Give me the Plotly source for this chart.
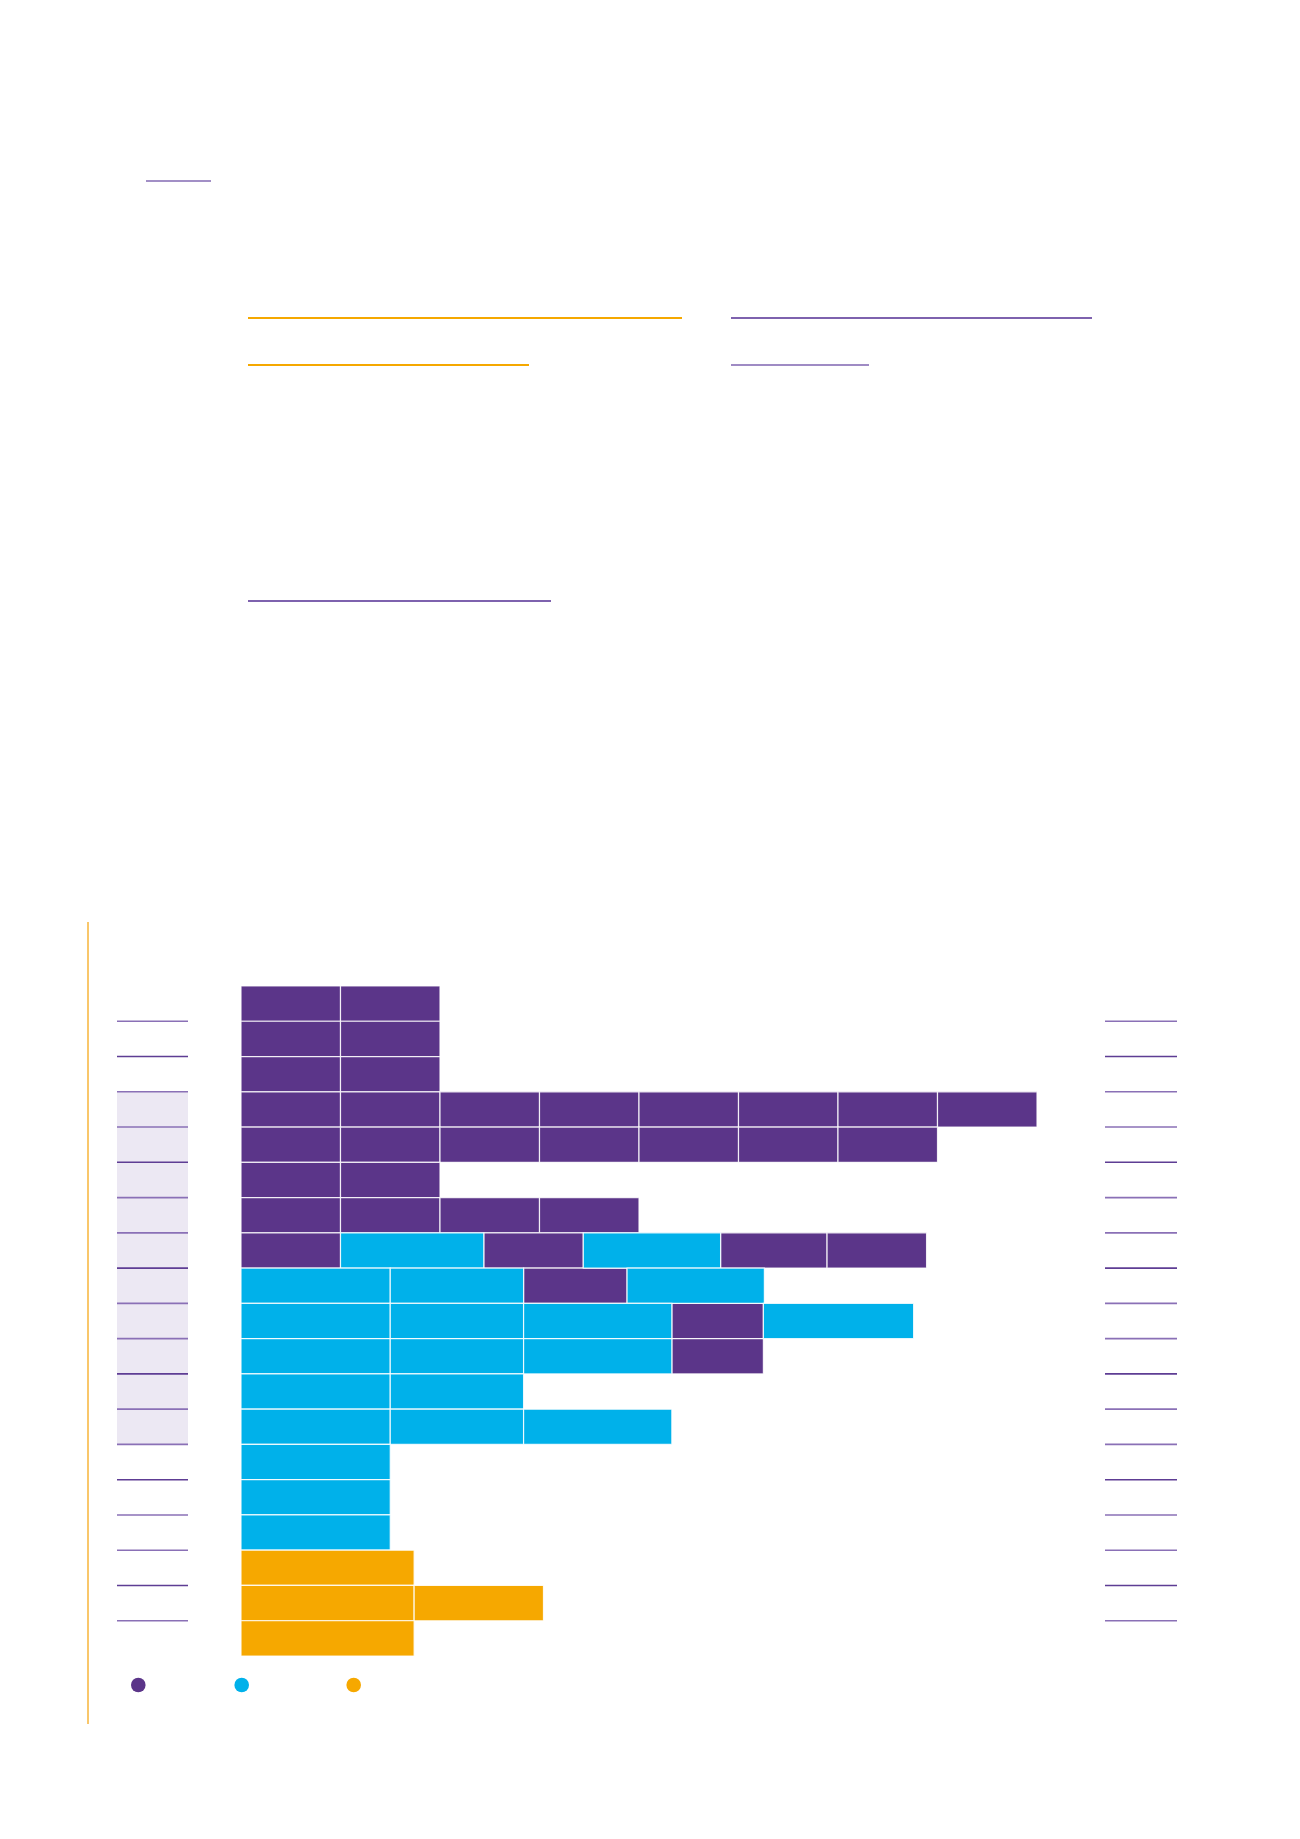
import plotly.graph_objects as go

# ---------------- data ----------------
row_ids = list(range(1, 20))
segment_types = [
    ["A", "A"],
    ["A", "A"],
    ["A", "A"],
    ["A", "A", "A", "A", "A", "A", "A", "A"],
    ["A", "A", "A", "A", "A", "A", "A"],
    ["A", "A"],
    ["A", "A", "A", "A"],
    ["A", "B", "A", "B", "A", "A"],
    ["B", "B", "A", "B"],
    ["B", "B", "B", "A", "B"],
    ["B", "B", "B", "A"],
    ["B", "B"],
    ["B", "B", "B"],
    ["B"],
    ["B"],
    ["B"],
    ["C"],
    ["C", "C"],
    ["C"],
]
segment_lengths = [
    [1.0, 1.0],
    [1.0, 1.0],
    [1.0, 1.0],
    [1.0, 1.0, 1.0, 1.0, 1.0, 1.0, 1.0, 1.0],
    [1.0, 1.0, 1.0, 1.0, 1.0, 1.0, 1.0],
    [1.0, 1.0],
    [1.0, 1.0, 1.0, 1.0],
    [1.0, 1.44, 1.0, 1.38, 1.07, 1.0],
    [1.5, 1.34, 1.04, 1.38],
    [1.5, 1.34, 1.49, 0.92, 1.51],
    [1.5, 1.34, 1.49, 0.92],
    [1.5, 1.34],
    [1.5, 1.34, 1.49],
    [1.5],
    [1.5],
    [1.5],
    [1.74],
    [1.74, 1.30],
    [1.74],
]
highlighted_rows = list(range(4, 14))  # rows with shaded label cell
type_names = {"A": "A", "B": "B", "C": "C"}
type_colors = {"A": "#5B3589", "B": "#00B1EA", "C": "#F6A800"}

# ---------------- geometry helpers ----------------
W, H = 1300, 1839
def px(x):
    return x / W
def py(y):
    return 1 - y / H

X0_PX, UNIT_PX = 241, 99.5
ROW_TOP, ROW_BOT = 986, 1656
n_rows = len(row_ids)

fig = go.Figure()

for t in ["A", "B", "C"]:
    ys, xs, bases = [], [], []
    for i, (types, lens) in enumerate(zip(segment_types, segment_lengths)):
        start = 0.0
        for st, ln in zip(types, lens):
            if st == t:
                ys.append(i)
                xs.append(ln)
                bases.append(start)
            start += ln
    fig.add_trace(go.Bar(
        y=ys, x=xs, base=bases, orientation="h", width=1.0,
        marker=dict(color=type_colors[t], line=dict(color="rgba(255,255,255,0.85)", width=1.2)),
        name=type_names[t], showlegend=False, hoverinfo="skip",
    ))

shapes = []
# shaded label cells (left)
shapes.append(dict(type="rect", xref="paper", yref="y",
                   x0=px(117), x1=px(188),
                   y0=highlighted_rows[0] - 1 - 0.5, y1=highlighted_rows[-1] - 1 + 0.5,
                   fillcolor="#ECE8F3", line=dict(width=0), layer="below"))
# row separator lines in label columns
for i in range(n_rows - 1):
    yb = i + 0.5
    col = "#5E3D94" if i % 3 == 1 else "#8A70B6"
    for xa, xb in [(117, 188), (1105, 1177)]:
        shapes.append(dict(type="line", xref="paper", yref="y",
                           x0=px(xa), x1=px(xb), y0=yb, y1=yb,
                           line=dict(color=col, width=1.6)))
# vertical yellow rule
shapes.append(dict(type="line", xref="paper", yref="paper",
                   x0=px(88), x1=px(88), y0=py(922), y1=py(1724),
                   line=dict(color="#F7B53A", width=1.5)))
# legend dots
for cx, t in [(138.3, "A"), (241.7, "B"), (353.7, "C")]:
    r = 7.3
    shapes.append(dict(type="circle", xref="paper", yref="paper",
                       x0=px(cx - r), x1=px(cx + r), y0=py(1685 + r), y1=py(1685 - r),
                       fillcolor=type_colors[t], line=dict(width=0)))
# page underline rules (link underlines of the surrounding text)
rules = [
    (146, 211, 181, "#A28FC6"),
    (248, 682, 318, "#F5A800"),
    (248, 529, 365, "#F5A800"),
    (731, 1092, 318, "#7E62AE"),
    (731, 869, 365, "#9F8BC4"),
    (248, 551, 601, "#7E62AE"),
]
for xa, xb, yy, col in rules:
    shapes.append(dict(type="line", xref="paper", yref="paper",
                       x0=px(xa), x1=px(xb), y0=py(yy), y1=py(yy),
                       line=dict(color=col, width=2)))

fig.update_layout(
    width=W, height=H, margin=dict(l=0, r=0, t=0, b=0),
    paper_bgcolor="white", plot_bgcolor="rgba(0,0,0,0)",
    barmode="overlay", bargap=0, showlegend=False,
    shapes=shapes,
    xaxis=dict(domain=[0, 1], range=[-X0_PX / UNIT_PX, (W - X0_PX) / UNIT_PX],
               visible=False, fixedrange=True),
    yaxis=dict(domain=[py(ROW_BOT), py(ROW_TOP)], range=[n_rows - 0.5, -0.5],
               visible=False, fixedrange=True),
)

fig.write_html("out.html", config={"displayModeBar": False, "staticPlot": True},
               post_script="document.body.style.margin='0px';document.body.style.overflow='hidden';")
